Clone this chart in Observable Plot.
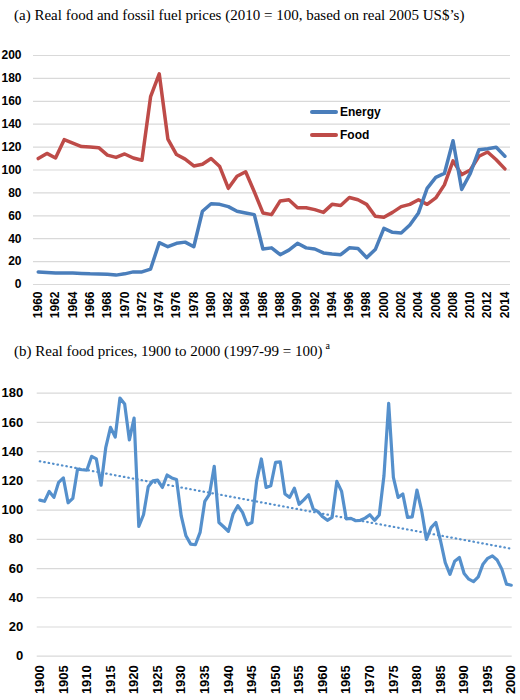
<!DOCTYPE html>
<html><head><meta charset="utf-8">
<script src="https://cdn.jsdelivr.net/npm/d3@7"></script>
<script src="https://cdn.jsdelivr.net/npm/@observablehq/plot@0.6"></script>
<style>
body{margin:0;background:#fff;}
#wrap{position:relative;width:520px;height:700px;overflow:hidden;}
.title{position:absolute;left:14px;font-family:"Liberation Serif","Times New Roman",serif;font-size:15px;color:#000;white-space:nowrap;line-height:18px;}
.title sup{font-size:10px;vertical-align:7px;line-height:0;margin-left:3px;}
.chart{position:absolute;left:0;}
.leg{position:absolute;font-family:"Liberation Sans",Arial,sans-serif;font-weight:bold;font-size:12px;color:#000;display:flex;align-items:center;white-space:nowrap;}
.leg span.sw{display:inline-block;width:28px;height:3.5px;border-radius:2px;margin-right:2px;}
</style></head>
<body>
<div id="wrap">
  <div class="title" style="top:6px">(a) Real food and fossil fuel prices (2010 = 100, based on real 2005 US$’s)</div>
  <div class="chart" id="chartA" style="top:40px"></div>
  <div class="leg" style="left:310px;top:105px"><span class="sw" style="background:#4a7ebb"></span>Energy</div>
  <div class="leg" style="left:310px;top:128px"><span class="sw" style="background:#be4b48"></span>Food</div>
  <div class="title" style="top:342px">(b) Real food prices, 1900 to 2000 (1997-99 = 100)<sup>a</sup></div>
  <div class="chart" id="chartB" style="top:370px"></div>
</div>
<script>
// Panel (a): 1960–2014
const startYearA = 1960;
const energy = [
  11, 10.5, 10, 10, 10, 9.6, 9.3, 9.2, 9, 8.2,
  9.3, 11, 11, 13.5, 36.5, 33, 36, 37, 33, 64,
  70.5, 70, 68, 64, 62.5, 61, 31, 32, 26, 30,
  36, 32, 31, 27.6, 26.7, 26, 32, 31.4, 23.5, 30.5,
  49, 45.6, 45, 52, 62.5, 84, 93.6, 97, 125.6, 83,
  97, 117.7, 118.6, 119.8, 112
];
const food = [
  110, 114.5, 110.5, 126.5, 123.5, 120.5, 120, 119.5, 113, 111,
  114, 110.5, 108.5, 164, 184, 127, 113.5, 109.5, 103.5, 105,
  110, 103, 84, 94.5, 98.5, 81, 62.5, 61, 73, 74,
  67, 67, 65.4, 63, 70, 69, 76, 74, 70, 59.6,
  58.7, 63, 68, 70, 74, 70, 75.6, 87, 108, 96,
  100, 112, 115.7, 109, 101
];
const xTicksA = [1960,1962,1964,1966,1968,1970,1972,1974,1976,1978,1980,1982,1984,1986,1988,1990,1992,1994,1996,1998,2000,2002,2004,2006,2008,2010,2012,2014];
const yTicksA = [0,20,40,60,80,100,120,140,160,180,200];

// Panel (b): 1900–2000
const startYearB = 1900;
const foodLong = [
  106.8, 106, 112.8, 108.7, 119, 122, 105, 108, 128, 127.6,
  127.4, 136.8, 135, 117, 143, 156.6, 150, 176.7, 172.6, 148,
  163, 88.8, 96.8, 116, 120, 120.5, 115.5, 124, 122, 121,
  96, 82.4, 76.7, 76.3, 84.7, 106, 111, 130, 91.5, 88.6,
  85.4, 97.3, 103, 98.4, 90, 91.5, 120, 135, 115.5, 116.7,
  132.6, 133, 111, 108.7, 115, 104, 107, 110.5, 100.7, 99,
  95.4, 93, 95, 119.6, 113, 94, 94.3, 92.7, 93, 94.5,
  96.8, 93, 96.6, 123.5, 173, 122.4, 108.7, 111, 95, 95.4,
  113.7, 99.5, 80, 88, 91.5, 79, 64, 56, 65, 67.6,
  56.6, 52.7, 51, 54.3, 63, 67, 68.7, 65.8, 59.6, 49.3,
  48.6
];
const xTicksB = [1900,1905,1910,1915,1920,1925,1930,1935,1940,1945,1950,1955,1960,1965,1970,1975,1980,1985,1990,1995,2000];
const yTicksB = [0,20,40,60,80,100,120,140,160,180];

const dataEnergy = energy.map((v, i) => ({year: startYearA + i, value: v}));
const dataFood = food.map((v, i) => ({year: startYearA + i, value: v}));
const dataB = foodLong.map((v, i) => ({year: startYearB + i, value: v}));

const chartA = Plot.plot({
  width: 520, height: 300,
  marginLeft: 33, marginRight: 10, marginTop: 15, marginBottom: 56,
  x: {type: "linear", domain: [1959.45, 2014.65], label: null},
  y: {domain: [0, 200], label: null},
  style: {fontFamily: "'Liberation Sans', Arial, sans-serif", fontSize: "12px", fontWeight: "bold", color: "#000", background: "transparent", overflow: "visible"},
  marks: [
    Plot.gridY(yTicksA, {stroke: "#d9d9d9", strokeOpacity: 1, strokeWidth: 1.2}),
    Plot.axisY(yTicksA, {tickSize: 0, tickPadding: 12, fontWeight: "bold", label: null}),
    Plot.axisX(xTicksA, {tickSize: 0, tickPadding: 7, tickRotate: -90, tickFormat: d => String(d), fontWeight: "bold", label: null}),
    Plot.line(dataFood, {x: "year", y: "value", stroke: "#be4b48", strokeWidth: 3.5}),
    Plot.line(dataEnergy, {x: "year", y: "value", stroke: "#4a7ebb", strokeWidth: 3.5})
  ]
});
document.getElementById("chartA").append(chartA);

const chartB = Plot.plot({
  width: 520, height: 330,
  marginLeft: 36.7, marginRight: 8.3, marginTop: 22.7, marginBottom: 44.3,
  x: {type: "linear", domain: [1899.45, 2000.2], label: null},
  y: {domain: [0, 180], label: null},
  style: {fontFamily: "'Liberation Sans', Arial, sans-serif", fontSize: "13px", fontWeight: "bold", color: "#000", background: "transparent", overflow: "visible"},
  marks: [
    Plot.gridY(yTicksB, {stroke: "#d9d9d9", strokeOpacity: 1, strokeWidth: 1.2}),
    Plot.axisY(yTicksB, {tickSize: 0, tickPadding: 14, fontWeight: "bold", label: null}),
    Plot.axisX(xTicksB, {tickSize: 0, tickPadding: 9, tickRotate: -90, tickFormat: d => String(d), fontWeight: "bold", label: null}),
    Plot.line(dataB, {x: "year", y: "value", stroke: "#5590cc", strokeWidth: 3.2}),
    Plot.linearRegressionY(dataB, {x: "year", y: "value", ci: 0, stroke: "#5590cc", strokeWidth: 2.2, strokeDasharray: "0.5,4", strokeLinecap: "round"})
  ]
});
document.getElementById("chartB").append(chartB);
</script>
</body></html>
